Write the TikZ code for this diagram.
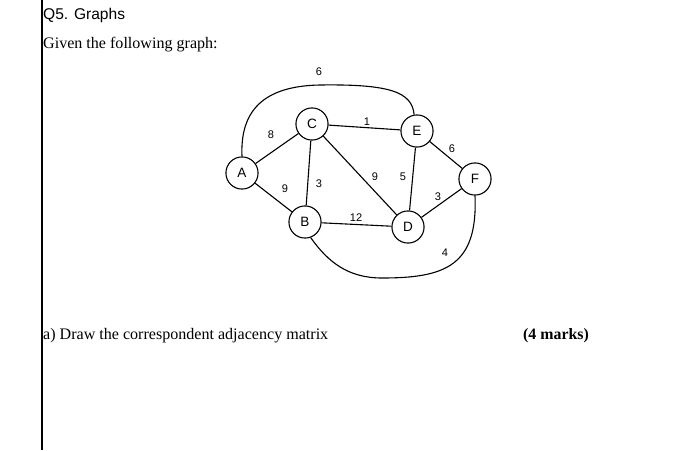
\documentclass[tikz,border=0pt]{standalone}
\usepackage{fontspec}
\setmainfont{Liberation Serif}
\setsansfont{Liberation Sans}
\usetikzlibrary{calc}

\begin{document}
\begin{tikzpicture}[x=0.035cm,y=-0.035cm,
    vertex/.style={circle,draw,line width=1.1pt,minimum size=32pt,inner sep=0pt,
      font=\sffamily\fontsize{13.5}{13.5}\selectfont},
    edge/.style={line width=1.1pt},
    wt/.style={font=\sffamily\fontsize{11}{11}\selectfont}]
            \useasboundingbox[fill=white] (0,0) rectangle (700,450);
            % page margin rule
            \coordinate (m1) at (42,0);
            \coordinate (m2) at (42,450);
            \draw[line width=1.8pt] (m1) -- (m2);
            % texts
            \node[anchor=west, inner sep=1pt, font=\sffamily\fontsize{15.5}{15.5}\selectfont] (title) at (42,15) {Q5. Graphs};
            \node[anchor=west, inner sep=1pt, font=\fontsize{16}{16}\selectfont] (given) at (42,45) {Given the following graph:};
            \node[anchor=west, inner sep=1pt, font=\fontsize{16}{16}\selectfont] (qa) at (42,336) {a) Draw the correspondent adjacency matrix};
            \node[anchor=west, inner sep=1pt, font=\bfseries\fontsize{15.8}{15.8}\selectfont] (marks) at (522,336) {(4 marks)};
            % vertices
            \node[vertex] (A) at (242,173) {A};
            \node[vertex] (C) at (312,124) {C};
            \node[vertex] (E) at (417,131) {E};
            \node[vertex] (F) at (475,179) {F};
            \node[vertex] (B) at (305,222) {B};
            \node[vertex] (D) at (408,227) {D};
            % edges
            \draw[edge] (A) -- (C);
            \draw[edge] (A) -- (B);
            \draw[edge] (C) -- (B);
            \draw[edge] (C) -- (E);
            \draw[edge] (C) -- (D);
            \draw[edge] (E) -- (D);
            \draw[edge] (E) -- (F);
            \draw[edge] (D) -- (F);
            \draw[edge] (B) -- (D);
            \draw[edge] (A.north) .. controls (240,112) and (262,86) .. (320,85)
                .. controls (390,84) and (412,92) .. (E.100);
            \draw[edge] (B.290) .. controls (328,262) and (348,278) .. (382,278)
                .. controls (445,278) and (478,266) .. (F.south);
            % weights
            \node[wt] at (319,72) {6};
            \node[wt] at (271,135) {8};
            \node[wt] at (367,122) {1};
            \node[wt] at (452,149) {6};
            \node[wt] at (285,189) {9};
            \node[wt] at (319,184) {3};
            \node[wt] at (375,177) {9};
            \node[wt] at (403,177) {5};
            \node[wt] at (438,197) {3};
            \node[wt] at (356,218) {12};
            \node[wt] at (445,253) {4};
          \end{tikzpicture}
\end{document}
